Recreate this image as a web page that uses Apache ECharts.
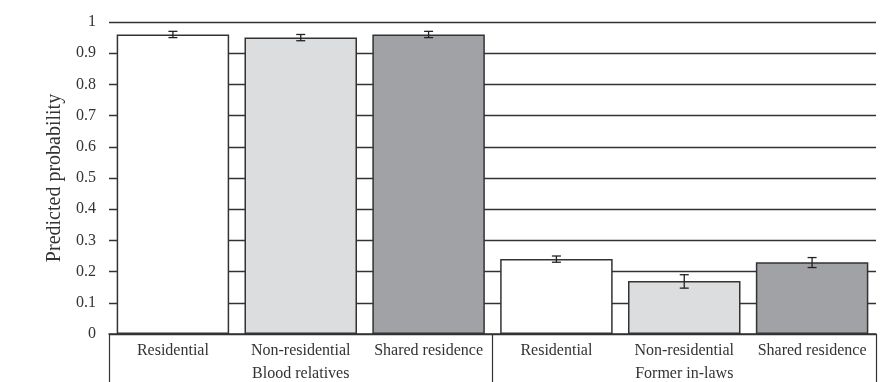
<!DOCTYPE html>
<html>
<head>
<meta charset="utf-8">
<style>
  html, body { margin: 0; padding: 0; background: #fff; }
  #chart { width: 891px; height: 382px; }
</style>
<script src="https://cdn.jsdelivr.net/npm/echarts@6/dist/echarts.min.js"></script>
</head>
<body>
<div id="chart"></div>
<script>
// Relationship type within each group, in drawing order
const categories = ['Residential', 'Non-residential', 'Shared residence',
                    'Residential', 'Non-residential', 'Shared residence'];
const groups = ['Blood relatives', 'Former in-laws'];
// Predicted probabilities and their confidence bounds
const probability = [0.96, 0.95, 0.96, 0.24, 0.17, 0.23];
const lower = [0.95, 0.94, 0.95, 0.23, 0.147, 0.213];
const upper = [0.97, 0.96, 0.97, 0.25, 0.19, 0.245];
const fills = ['#ffffff', '#dcdddf', '#a1a2a5', '#ffffff', '#dcdddf', '#a1a2a5'];
const yTicks = [0, 0.1, 0.2, 0.3, 0.4, 0.5, 0.6, 0.7, 0.8, 0.9, 1];

const FONT = '"Liberation Serif", "DejaVu Serif", serif';
const INK = '#333';

const chart = echarts.init(document.getElementById('chart'), null, { renderer: 'canvas' });

chart.setOption({
  animation: false,
  grid: { left: 109, right: 15, top: 22, bottom: 48, containLabel: false },
  xAxis: [
    {
      type: 'category',
      data: categories,
      position: 'bottom',
      axisLine: { show: true, lineStyle: { color: INK, width: 1.5 } },
      axisTick: { show: false },
      axisLabel: { interval: 0, margin: 9, color: INK, fontFamily: FONT, fontSize: 16 }
    },
    {
      type: 'category',
      data: groups,
      position: 'bottom',
      axisLine: { show: false },
      axisTick: { show: true, length: 48, lineStyle: { color: INK, width: 1.2 } },
      axisLabel: { interval: 0, margin: 32, color: INK, fontFamily: FONT, fontSize: 16 }
    }
  ],
  yAxis: {
    type: 'value',
    min: 0,
    max: 1,
    interval: 0.1,
    name: 'Predicted probability',
    nameLocation: 'middle',
    nameGap: 43,
    nameTextStyle: { color: INK, fontFamily: FONT, fontSize: 20 },
    axisLine: { show: false },
    axisTick: { show: false },
    splitLine: { show: true, lineStyle: { color: INK, width: 1.3 } },
    axisLabel: {
      margin: 13,
      color: INK,
      fontFamily: FONT,
      fontSize: 16,
      formatter: function (v) {
        const nearest = yTicks.reduce((a, b) => Math.abs(b - v) < Math.abs(a - v) ? b : a);
        if (nearest === 0) return '0';
        if (nearest === 1) return '1';
        return nearest.toFixed(1);
      }
    }
  },
  series: [
    {
      type: 'bar',
      xAxisIndex: 0,
      barCategoryGap: '12%',
      data: probability.map((v, i) => ({
        value: v,
        itemStyle: { color: fills[i], borderColor: INK, borderWidth: 1.5 }
      })),
      z: 2
    },
    {
      type: 'custom',
      xAxisIndex: 0,
      data: probability.map((v, i) => [i, lower[i], upper[i]]),
      renderItem: function (params, api) {
        const lo = api.coord([api.value(0), api.value(1)]);
        const hi = api.coord([api.value(0), api.value(2)]);
        const half = 4.5;
        const style = { stroke: '#222', lineWidth: 1.3 };
        return {
          type: 'group',
          children: [
            { type: 'line', shape: { x1: lo[0], y1: lo[1], x2: hi[0], y2: hi[1] }, style: style },
            { type: 'line', shape: { x1: lo[0] - half, y1: lo[1], x2: lo[0] + half, y2: lo[1] }, style: style },
            { type: 'line', shape: { x1: hi[0] - half, y1: hi[1], x2: hi[0] + half, y2: hi[1] }, style: style }
          ]
        };
      },
      z: 3
    }
  ]
});
</script>
</body>
</html>
